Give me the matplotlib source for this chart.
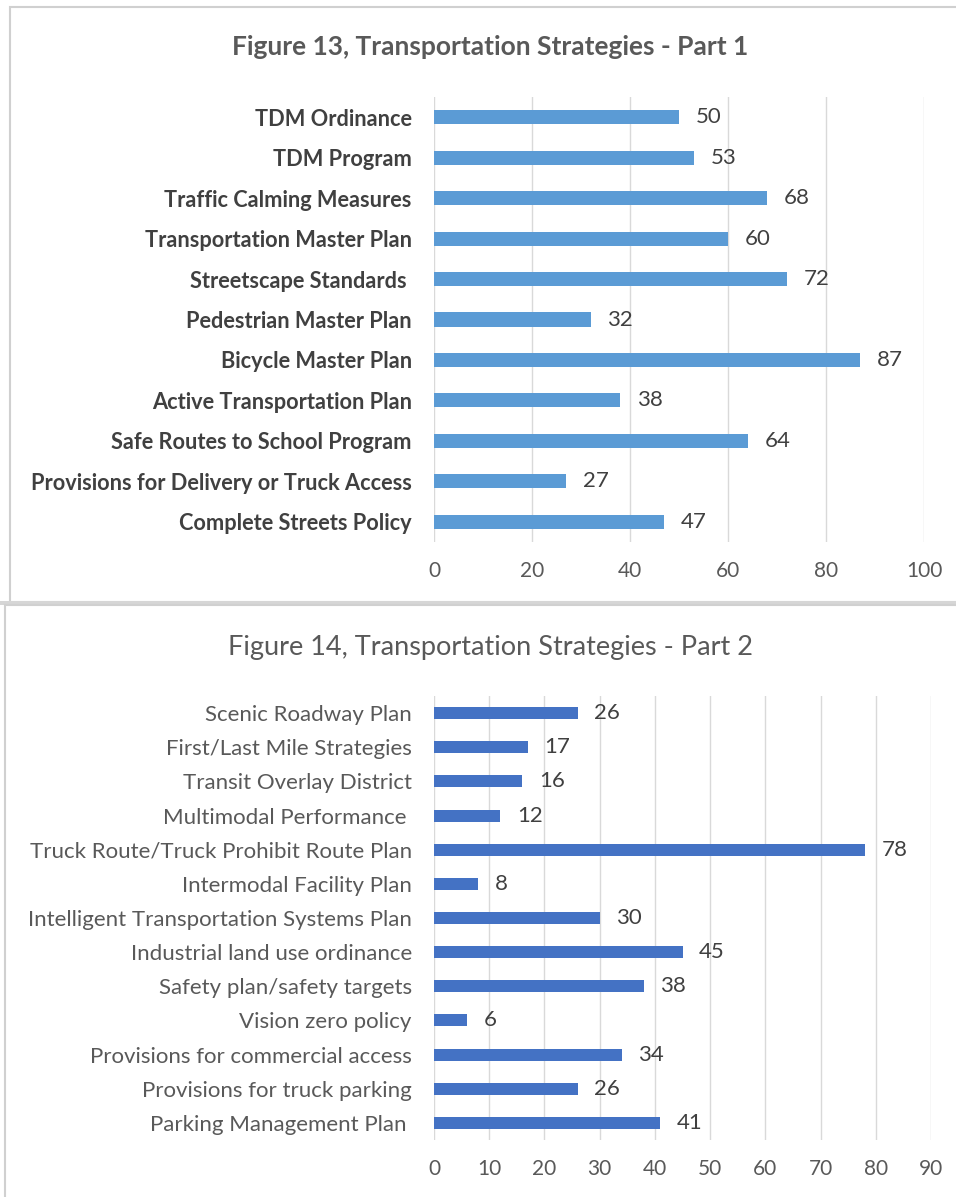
import matplotlib
matplotlib.use("Agg")
import matplotlib.pyplot as plt
from matplotlib.patches import Rectangle

# Figure 13 data
top_labels = ["TDM Ordinance", "TDM Program", "Traffic Calming Measures",
              "Transportation Master Plan", "Streetscape Standards ",
              "Pedestrian Master Plan", "Bicycle Master Plan",
              "Active Transportation Plan", "Safe Routes to School Program",
              "Provisions for Delivery or Truck Access", "Complete Streets Policy"]
top_values = [50, 53, 68, 60, 72, 32, 87, 38, 64, 27, 47]
top_ticks = [0, 20, 40, 60, 80, 100]

# Figure 14 data
bot_labels = ["Scenic Roadway Plan", "First/Last Mile Strategies",
              "Transit Overlay District", "Multimodal Performance ",
              "Truck Route/Truck Prohibit Route Plan", "Intermodal Facility Plan",
              "Intelligent Transportation Systems Plan",
              "Industrial land use ordinance", "Safety plan/safety targets",
              "Vision zero policy", "Provisions for commercial access",
              "Provisions for truck parking", "Parking Management Plan "]
bot_values = [26, 17, 16, 12, 78, 8, 30, 45, 38, 6, 34, 26, 41]
bot_ticks = [0, 10, 20, 30, 40, 50, 60, 70, 80, 90]

plt.rcParams['font.family'] = ['Lato', 'DejaVu Sans']

W, H = 956, 1197
fig = plt.figure(figsize=(W / 100, H / 100), dpi=100)


def px_axes(left, top, right, bottom):
    return fig.add_axes([left / W, 1 - bottom / H, (right - left) / W, (bottom - top) / H])


def draw_panel(ax, labels, values, ticks, color, bold, lab_color, size):
    y = list(range(len(labels)))
    ax.barh(y, values, height=0.35, color=color, zorder=3)
    ax.set_ylim(len(labels) - 0.5, -0.5)
    ax.set_xlim(ticks[0], ticks[-1])
    ax.set_xticks(ticks)
    ax.set_yticks(y)
    ax.set_yticklabels(labels, fontsize=size, color=lab_color,
                       fontweight='bold' if bold else 'normal')
    ax.tick_params(axis='y', length=0, pad=16)
    ax.tick_params(axis='x', length=0, pad=14, labelsize=15, labelcolor='#595959')
    ax.grid(axis='x', color='#d9d9d9', linewidth=1, zorder=0)
    for s in ax.spines.values():
        s.set_visible(False)
    for yi, v in zip(y, values):
        ax.annotate(str(v), (v, yi), xytext=(12, 0), textcoords='offset points',
                    va='center', ha='left', fontsize=16, color='#404040')


ax1 = px_axes(434, 97, 924, 542)
draw_panel(ax1, top_labels, top_values, top_ticks, '#5B9BD5', True, '#404040', 15.7)
fig.text(490 / W, 1 - 47 / H, "Figure 13, Transportation Strategies - Part 1",
         ha='center', va='center', fontsize=19, fontweight='bold', color='#595959')

ax2 = px_axes(434, 696, 931, 1140)
draw_panel(ax2, bot_labels, bot_values, bot_ticks, '#4472C4', False, '#595959', 16)
fig.text(490 / W, 1 - 648 / H, "Figure 14, Transportation Strategies - Part 2",
         ha='center', va='center', fontsize=19.5, color='#595959')

# panel frames
fig.add_artist(Rectangle((10 / W, 1 - 602 / H), (W + 10) / W, 595 / H,
                         transform=fig.transFigure, fill=False,
                         edgecolor='#d0d0d0', linewidth=1.5))
fig.add_artist(Rectangle((0, 1 - 605 / H), 1, 4 / H, transform=fig.transFigure,
                         facecolor='#d6d6d6', edgecolor='none'))
fig.add_artist(Rectangle((5 / W, -0.01), (W + 10) / W, (H - 605) / H + 0.01,
                         transform=fig.transFigure, fill=False,
                         edgecolor='#d0d0d0', linewidth=1.5))

fig.savefig("out.png", dpi=100)
